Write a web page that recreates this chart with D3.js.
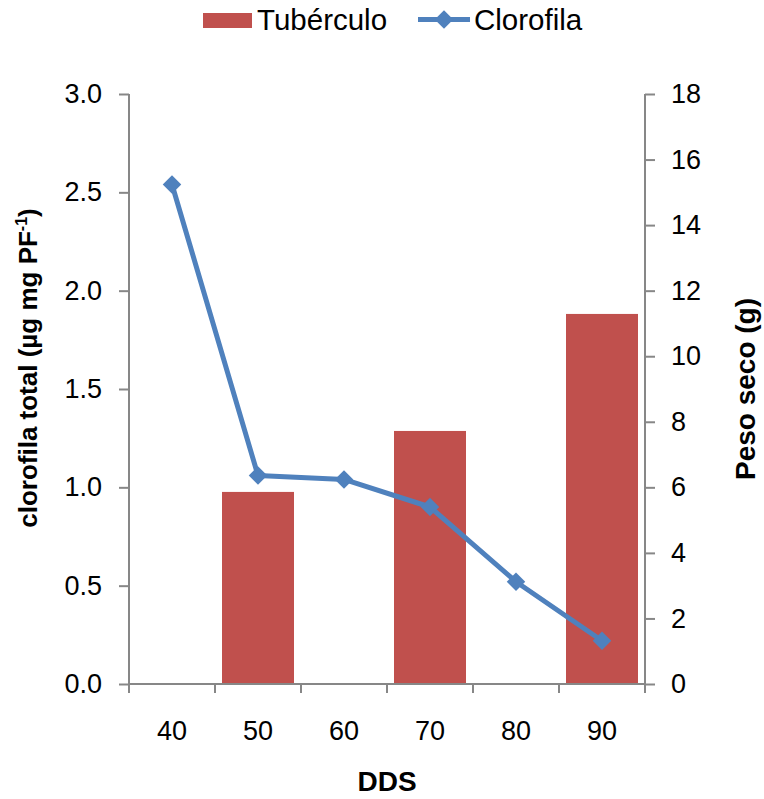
<!DOCTYPE html>
<html>
<head>
<meta charset="utf-8">
<script src="https://cdn.jsdelivr.net/npm/d3@7"></script>
<style>
  html, body { margin: 0; padding: 0; background: #fff; }
  svg { display: block; font-family: "Liberation Sans", Arial, sans-serif; }
</style>
</head>
<body>
<svg id="chart" width="764" height="799"></svg>
<script>
const categories = ["40", "50", "60", "70", "80", "90"];
const tuberculo = [null, 5.86, null, 7.72, null, 11.29];   // Peso seco (g), right axis
const clorofila = [2.54, 1.06, 1.04, 0.90, 0.52, 0.22];   // clorofila total, left axis
const leftTicks = [0, 0.5, 1.0, 1.5, 2.0, 2.5, 3.0];
const rightTicks = [0, 2, 4, 6, 8, 10, 12, 14, 16, 18];

const svg = d3.select("#chart");
const L = 129, R = 645, T = 94, B = 684;
const axisColor = "#878787";
const barColor = "#C0504D";
const lineColor = "#4F81BD";

const x = d3.scaleBand().domain(categories).range([L, R]).paddingInner(0).paddingOuter(0);
const yL = d3.scaleLinear().domain([0, 3]).range([B, T]);
const yR = d3.scaleLinear().domain([0, 18]).range([B, T]);
const barW = x.bandwidth() * 72 / 86;

// bars
svg.append("g").selectAll("rect")
  .data(categories.map((c, i) => ({c, v: tuberculo[i]})).filter(d => d.v != null))
  .join("rect")
  .attr("x", d => x(d.c) + (x.bandwidth() - barW) / 2)
  .attr("y", d => yR(d.v))
  .attr("width", barW)
  .attr("height", d => yR(0) - yR(d.v))
  .attr("fill", barColor);

// axes
const gL = svg.append("g").attr("transform", `translate(${L},0)`)
  .call(d3.axisLeft(yL).tickValues(leftTicks).tickFormat(d3.format(".1f")).tickSize(10).tickPadding(17));
const gR = svg.append("g").attr("transform", `translate(${R},0)`)
  .call(d3.axisRight(yR).tickValues(rightTicks).tickFormat(d3.format("d")).tickSize(10).tickPadding(16));
const gX = svg.append("g").attr("transform", `translate(0,${B})`)
  .call(d3.axisBottom(x).tickSize(0).tickPadding(36));
// band-boundary ticks on x axis
svg.append("g").selectAll("line")
  .data(categories.concat(["end"]))
  .join("line")
  .attr("x1", (d, i) => i < categories.length ? x(d) : x(categories[categories.length - 1]) + x.bandwidth())
  .attr("x2", (d, i) => i < categories.length ? x(d) : x(categories[categories.length - 1]) + x.bandwidth())
  .attr("y1", B).attr("y2", B + 9)
  .attr("stroke", axisColor).attr("stroke-width", 2);

[gL, gR, gX].forEach(g => {
  g.selectAll(".domain").attr("stroke", axisColor).attr("stroke-width", 2);
  g.selectAll(".tick line").attr("stroke", axisColor).attr("stroke-width", 2);
  g.selectAll(".tick text").attr("fill", "#000").style("font-size", "27px")
    .style("font-family", '"Liberation Sans", Arial, sans-serif');
});
gL.select(".domain").attr("d", `M0,${T}V${B}`);
gR.select(".domain").attr("d", `M0,${T}V${B}`);
gX.select(".domain").attr("d", `M${L},0H${R}`);
gX.selectAll(".tick text").attr("dy", "0").attr("y", 55.5);

// line
const line = d3.line().x((d, i) => x(categories[i]) + x.bandwidth() / 2).y(d => yL(d));
svg.append("path").datum(clorofila)
  .attr("d", line).attr("fill", "none")
  .attr("stroke", lineColor).attr("stroke-width", 5).attr("stroke-linejoin", "round");
const diamond = d3.symbol(d3.symbolSquare, 170);
svg.append("g").selectAll("path")
  .data(clorofila)
  .join("path")
  .attr("d", diamond)
  .attr("transform", (d, i) => `translate(${x(categories[i]) + x.bandwidth() / 2},${yL(d)}) rotate(45)`)
  .attr("fill", lineColor);

// axis titles
svg.append("text")
  .attr("x", 387).attr("y", 791)
  .attr("text-anchor", "middle")
  .style("font-size", "28px").style("font-weight", "bold")
  .text("DDS");

const lt = svg.append("text")
  .attr("transform", "translate(36.5,368) rotate(-90)")
  .attr("text-anchor", "middle")
  .style("font-size", "26px").style("font-weight", "bold");
lt.append("tspan").text("clorofila total (µg mg PF");
lt.append("tspan").attr("dy", -10).style("font-size", "16px").text("-1");
lt.append("tspan").attr("dy", 10).text(")");

svg.append("text")
  .attr("transform", "translate(755,389) rotate(-90)")
  .attr("text-anchor", "middle")
  .style("font-size", "28px").style("font-weight", "bold")
  .text("Peso seco (g)");

// legend
const leg = svg.append("g");
leg.append("rect").attr("x", 203).attr("y", 13).attr("width", 49).attr("height", 15).attr("fill", barColor);
leg.append("text").attr("x", 257).attr("y", 29.5).style("font-size", "29.5px").text("Tubérculo");
leg.append("line").attr("x1", 418).attr("x2", 470).attr("y1", 19.5).attr("y2", 19.5)
  .attr("stroke", lineColor).attr("stroke-width", 5);
leg.append("path").attr("d", diamond).attr("transform", "translate(444,19.5) rotate(45)").attr("fill", lineColor);
leg.append("text").attr("x", 474).attr("y", 29.5).style("font-size", "29.5px").text("Clorofila");
</script>
</body>
</html>
